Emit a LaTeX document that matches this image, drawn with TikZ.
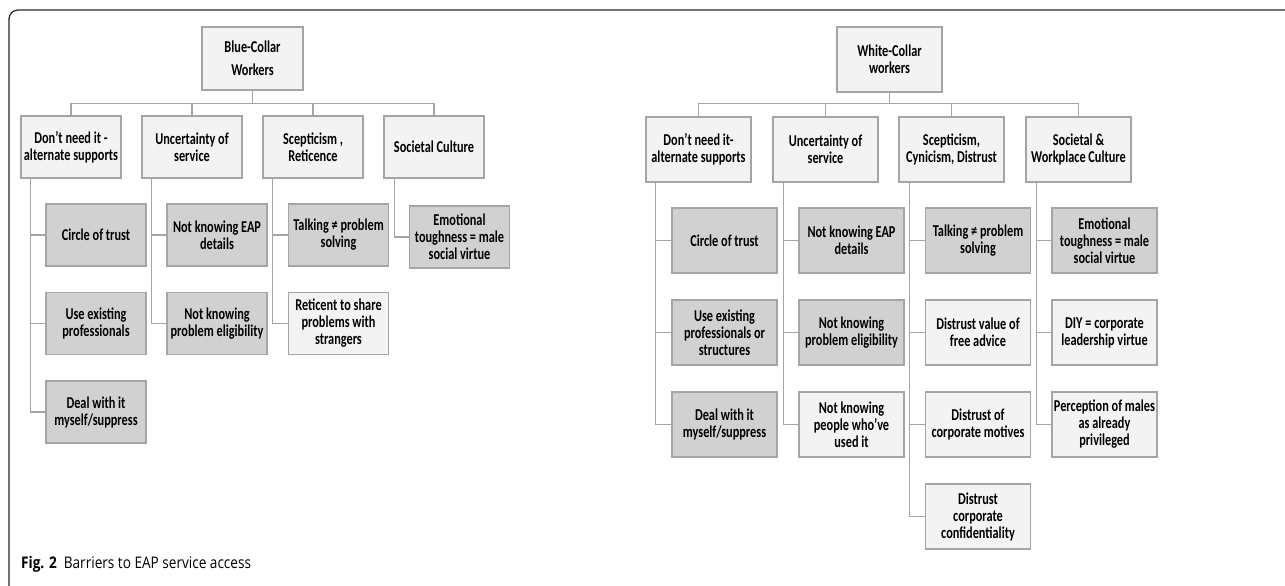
\documentclass[tikz,border=0pt]{standalone}
\usepackage{fontspec}
\setmainfont{Carlito}[FakeStretch=0.74]
\newfontfamily\capfont{Open Sans}[FakeStretch=0.85]
\definecolor{lightbox}{HTML}{F2F3F2}
\definecolor{darkbox}{HTML}{D0D1D0}
\definecolor{edgegray}{HTML}{A5A5A5}
\definecolor{framec}{HTML}{2A2A2A}
\tikzset{
  base/.style={draw=edgegray, line width=1.5pt, align=center, inner sep=1pt,
    font=\fontsize{16.6}{17}\selectfont\bfseries},
  bcbox/.style={base, minimum width=100pt, minimum height=62pt},
  wcbox/.style={base, minimum width=105pt, minimum height=65pt},
  lt/.style={fill=lightbox},
  dk/.style={fill=darkbox},
  conn/.style={draw=edgegray, line width=1.4pt},
  busA/.style={to path={(\tikztostart) -- ++(0,13) -| (\tikztotarget)}},
  busB/.style={to path={(\tikztostart) -- ++(0,11) -| (\tikztotarget)}},
}
\begin{document}
\begin{tikzpicture}[x=1pt,y=-1pt]
\useasboundingbox (0,0) rectangle (1285,586);
% frame
\draw[framec, line width=1.3pt, rounded corners=9pt] (9,586) -- (9,10) -- (1285,10);

% ---------------- Blue-collar ----------------
\node[bcbox, lt, minimum width=101pt, minimum height=63pt] (BC) at (252.5,58.5) {Blue-Collar\\[6pt]Workers};
\node[bcbox, lt] (B1) at (71,147) {Don’t need it -\\alternate supports};
\node[bcbox, lt] (B2) at (192,147) {Uncertainty of\\service};
\node[bcbox, lt] (B3) at (313,147) {Scepticism ,\\Reticence};
\node[bcbox, lt] (B4) at (434,147) {Societal Culture};

\node[bcbox, dk] (B11) at (96,235) {Circle of trust};
\node[bcbox, dk] (B12) at (96,323.5) {Use existing\\professionals};
\node[bcbox, dk] (B13) at (96,412) {Deal with it\\myself/suppress};
\node[bcbox, dk] (B21) at (217,235) {Not knowing EAP\\details};
\node[bcbox, dk] (B22) at (217,323.5) {Not knowing\\problem eligibility};
\node[bcbox, dk] (B31) at (338.5,235) {Talking ≠ problem\\solving};
\node[bcbox, lt] (B32) at (338.5,323.5) {Reticent to share\\problems with\\strangers};
\node[bcbox, dk] (B41) at (459.5,237) {Emotional\\toughness = male\\social virtue};

\foreach \c in {B1,B2,B3,B4} \draw[conn] (BC.south) to[busA] (\c.north);
\foreach \c in {B11,B12,B13} \draw[conn] ([xshift=10pt]B1.south west) |- (\c.west);
\foreach \c in {B21,B22} \draw[conn] ([xshift=10pt]B2.south west) |- (\c.west);
\foreach \c in {B31,B32} \draw[conn] ([xshift=10pt]B3.south west) |- (\c.west);
\foreach \c in {B41} \draw[conn] ([xshift=11pt]B4.south west) |- (\c.west);

% ---------------- White-collar ----------------
\node[wcbox, lt] (WC) at (889.5,59.5) {White-Collar\\workers};
\node[wcbox, lt] (W1) at (698.5,149.5) {Don’t need it-\\alternate supports};
\node[wcbox, lt] (W2) at (825.5,149.5) {Uncertainty of\\service};
\node[wcbox, lt] (W3) at (951.5,149.5) {Scepticism,\\Cynicism, Distrust};
\node[wcbox, lt] (W4) at (1078.5,149.5) {Societal \&\\Workplace Culture};

\node[wcbox, dk] (W11) at (724.5,240.5) {Circle of trust};
\node[wcbox, dk] (W12) at (724.5,332.5) {Use existing\\professionals or\\structures};
\node[wcbox, dk] (W13) at (724.5,424.5) {Deal with it\\myself/suppress};
\node[wcbox, dk] (W21) at (851.5,240.5) {Not knowing EAP\\details};
\node[wcbox, dk] (W22) at (851.5,332.5) {Not knowing\\problem eligibility};
\node[wcbox, lt] (W23) at (851.5,424.5) {Not knowing\\people who’ve\\used it};
\node[wcbox, dk] (W31) at (978,240.5) {Talking ≠ problem\\solving};
\node[wcbox, lt] (W32) at (978,332.5) {Distrust value of\\free advice};
\node[wcbox, lt] (W33) at (978,424.5) {Distrust of\\corporate motives};
\node[wcbox, lt] (W34) at (978,516.5) {Distrust\\corporate\\confidentiality};
\node[wcbox, dk] (W41) at (1104.5,240.5) {Emotional\\toughness = male\\social virtue};
\node[wcbox, lt] (W42) at (1104.5,332.5) {DIY = corporate\\leadership virtue};
\node[wcbox, lt] (W43) at (1104.5,424.5) {Perception of males\\as already\\privileged};

\foreach \c in {W1,W2,W3,W4} \draw[conn] (WC.south) to[busB] (\c.north);
\foreach \c in {W11,W12,W13} \draw[conn] ([xshift=10pt]W1.south west) |- (\c.west);
\foreach \c in {W21,W22,W23} \draw[conn] ([xshift=11pt]W2.south west) |- (\c.west);
\foreach \c in {W31,W32,W33,W34} \draw[conn] ([xshift=11pt]W3.south west) |- (\c.west);
\foreach \c in {W41,W42,W43} \draw[conn] ([xshift=11pt]W4.south west) |- (\c.west);

% caption
\node[anchor=base west, inner sep=0pt, font=\capfont\fontsize{16}{18}\selectfont] (cap) at (21,568)
  {\bfseries Fig. 2\hspace{7pt}\mdseries Barriers to EAP service access};
\end{tikzpicture}
\end{document}
